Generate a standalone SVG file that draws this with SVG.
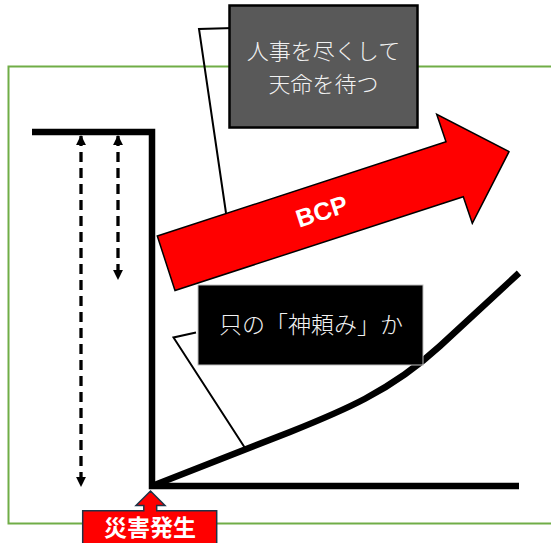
<svg xmlns="http://www.w3.org/2000/svg" width="551" height="543" viewBox="0 0 551 543">
<style>
.jp{font-family:"Noto Sans CJK JP","Noto Sans",sans-serif;}
.lbl{font-size:23px;fill:#f2f2f2;text-anchor:middle;font-weight:300;}
.thick{fill:none;stroke:#000;stroke-width:6.5;stroke-linejoin:miter;stroke-linecap:butt;}
.dash{fill:none;stroke:#000;stroke-width:3.3;stroke-dasharray:10 6;}
.lead{fill:none;stroke:#000;stroke-width:2;}
</style>
<defs>
<marker id="ah" viewBox="0 0 10 10" refX="9" refY="5" markerWidth="3" markerHeight="3" orient="auto-start-reverse" markerUnits="strokeWidth">
<path d="M0,0 L10,5 L0,10 z" fill="#000"/>
</marker>
</defs>
<rect x="8.5" y="66.5" width="560" height="457" fill="none" stroke="#70AD47" stroke-width="2"/>
<g id="axes">
<path class="thick" d="M32,132 H152 V486 H519"/>
<path class="thick" d="M152,486 L290,432 C340,412 390,392 440,346 L519,273"/>
</g>
<g id="connectors">
<line class="dash" x1="81" y1="136" x2="81" y2="486" marker-start="url(#ah)" marker-end="url(#ah)"/>
<line class="dash" x1="118" y1="136" x2="118" y2="279" marker-start="url(#ah)" marker-end="url(#ah)"/>
<polyline class="lead" points="234,28 199,29 226,213"/>
<polyline class="lead" points="196,332.5 173.5,337.5 245,448"/>
</g>
<g id="bcp">
<polygon points="157.3,236 446,141.7 436.7,114.3 509,151.7 472.3,223.3 463.3,196.7 175,290.5" fill="#ff0000" stroke="#000" stroke-width="1.5" stroke-linejoin="miter"/>
<text x="322" y="220" transform="rotate(-18 322 212)" font-family="'Liberation Sans',Arial,sans-serif" font-weight="bold" font-size="25" fill="#fff" text-anchor="middle">BCP</text>
</g>
<g id="jinji">
<rect x="229.5" y="5.5" width="188" height="122" fill="#595959" stroke="#000" stroke-width="2.5"/>
<text class="jp lbl" x="323.5" y="59" font-size="22" style="font-size:22px">人事を尽くして</text>
<text class="jp lbl" x="323.5" y="91.5" font-size="22" style="font-size:22px">天命を待つ</text>
</g>
<g id="kamidanomi">
<rect x="198" y="285" width="225" height="80" fill="#000" stroke="#bfbfbf" stroke-width="1"/>
<text class="jp lbl" x="311" y="333">只の「神頼み」か</text>
</g>
<g id="saigai">
<polygon points="82.7,510.7 143.8,510.7 143.8,505.5 136,505.5 150.5,491 165,505.5 156.7,505.5 156.7,510.7 216.7,510.7 216.7,546 82.7,546" fill="#ff0000" stroke="#1f3347" stroke-width="1.5"/>
<text class="jp" x="150" y="536" font-size="23" font-weight="bold" fill="#fff" text-anchor="middle">災害発生</text>
</g>
</svg>
